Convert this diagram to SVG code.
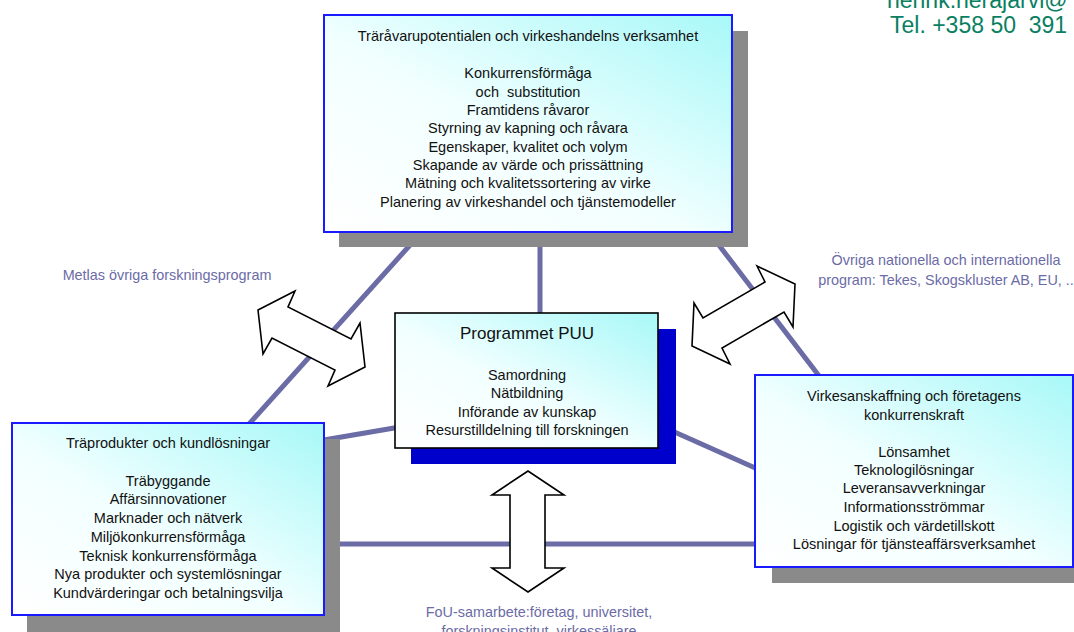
<svg xmlns="http://www.w3.org/2000/svg" width="1074" height="632" viewBox="0 0 1074 632">
<defs>
<linearGradient id="cy" x1="0" y1="1" x2="1" y2="0">
<stop offset="0" stop-color="#ffffff"/>
<stop offset="0.45" stop-color="#f2ffff"/>
<stop offset="1" stop-color="#a8f8f8"/>
</linearGradient>
<style>
.conn{stroke:#6b6ba6;stroke-width:5;fill:none}
.arr{fill:#ffffff;stroke:#000000;stroke-width:1.6;stroke-linejoin:miter}
.shadow{fill:#8a8a8a}
.box{fill:url(#cy);stroke:#1a1aff;stroke-width:2}
.cbox{fill:url(#cy);stroke:#000000;stroke-width:1.6}
.t{font-family:"Liberation Sans",Arial,sans-serif;font-size:14.5px;fill:#111111;text-anchor:middle}
.lbl{font-family:"Liberation Sans",Arial,sans-serif;font-size:14.4px;fill:#6b6ba6;text-anchor:middle}
.grn{font-family:"Liberation Sans",Arial,sans-serif;font-size:23px;fill:#0a7f62}
</style>
</defs>
<rect width="1074" height="632" fill="#ffffff"/>

<g id="connectors">
<line class="conn" x1="420" y1="234" x2="240" y2="434"/>
<line class="conn" x1="540" y1="240" x2="540" y2="320"/>
<line class="conn" x1="715" y1="240" x2="826" y2="385"/>
<line class="conn" x1="318" y1="441" x2="400" y2="427"/>
<line class="conn" x1="670" y1="430" x2="762" y2="471"/>
<line class="conn" x1="330" y1="544" x2="762" y2="544"/>
</g>

<g id="arrows">
<polygon class="arr" points="295,291 258,310 263,354 272,338 335,370 328,386 365,367 360,323 351,339 288,307"/>
<polygon class="arr" points="757,266 765,282 703,318 694,303 692,346 730,364 722,348 784,312 793,327 795,284"/>
<polygon class="arr" points="528,471 492,495 510,495 510,568 492,568 528,592 564,568 545,568 545,495 564,495"/>
</g>

<g id="node-top">
<rect class="shadow" x="339" y="31" width="409" height="216"/>
<rect class="box" x="324" y="15" width="408" height="217"/>
<text class="t" x="528" y="41">Träråvarupotentialen och virkeshandelns verksamhet</text>
<text class="t" x="528" y="78">Konkurrensförmåga</text>
<text class="t" x="528" y="97" xml:space="preserve">och  substitution</text>
<text class="t" x="528" y="115">Framtidens råvaror</text>
<text class="t" x="528" y="133">Styrning av kapning och råvara</text>
<text class="t" x="528" y="152">Egenskaper, kvalitet och volym</text>
<text class="t" x="528" y="170">Skapande av värde och prissättning</text>
<text class="t" x="528" y="188">Mätning och kvalitetssortering av virke</text>
<text class="t" x="528" y="207">Planering av virkeshandel och tjänstemodeller</text>
</g>

<g id="node-center">
<rect x="411" y="329" width="265" height="135" fill="#0000cc"/>
<rect class="cbox" x="395" y="313" width="263" height="135"/>
<text class="t" x="527" y="339" style="font-size:17px">Programmet PUU</text>
<text class="t" x="527" y="380">Samordning</text>
<text class="t" x="527" y="398">Nätbildning</text>
<text class="t" x="527" y="417">Införande av kunskap</text>
<text class="t" x="527" y="435">Resurstilldelning till forskningen</text>
</g>

<g id="node-left">
<rect class="shadow" x="27" y="439" width="313" height="200"/>
<rect class="box" x="12" y="423" width="312" height="192"/>
<text class="t" x="168" y="448">Träprodukter och kundlösningar</text>
<text class="t" x="168" y="486">Träbyggande</text>
<text class="t" x="168" y="504">Affärsinnovationer</text>
<text class="t" x="168" y="523">Marknader och nätverk</text>
<text class="t" x="168" y="542">Miljökonkurrensförmåga</text>
<text class="t" x="168" y="561">Teknisk konkurrensförmåga</text>
<text class="t" x="168" y="579">Nya produkter och systemlösningar</text>
<text class="t" x="168" y="598">Kundvärderingar och betalningsvilja</text>
</g>

<g id="node-right">
<rect class="shadow" x="772" y="391" width="310" height="192"/>
<rect class="box" x="755" y="375" width="318" height="192"/>
<text class="t" x="914" y="401">Virkesanskaffning och företagens</text>
<text class="t" x="914" y="420">konkurrenskraft</text>
<text class="t" x="914" y="457">Lönsamhet</text>
<text class="t" x="914" y="475">Teknologilösningar</text>
<text class="t" x="914" y="493">Leveransavverkningar</text>
<text class="t" x="914" y="512">Informationsströmmar</text>
<text class="t" x="914" y="531">Logistik och värdetillskott</text>
<text class="t" x="914" y="549">Lösningar för tjänsteaffärsverksamhet</text>
</g>

<g id="labels">
<text class="lbl" x="167" y="280">Metlas övriga forskningsprogram</text>
<text class="lbl" x="946" y="265">Övriga nationella och internationella</text>
<text class="lbl" x="946" y="285">program: Tekes, Skogskluster AB, EU, ..</text>
<text class="lbl" x="539" y="617">FoU-samarbete:företag, universitet,</text>
<text class="lbl" x="539" y="636">forskningsinstitut, virkessäljare</text>
<text class="grn" x="887" y="8">henrik.herajarvi@</text>
<text class="grn" x="890" y="33" xml:space="preserve">Tel. +358 50  391</text>
</g>
</svg>
